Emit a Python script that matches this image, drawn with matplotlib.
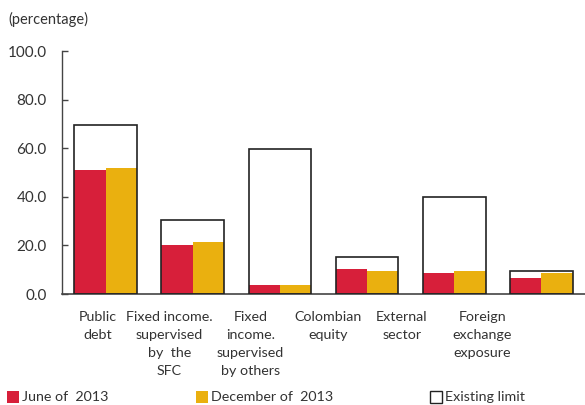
import matplotlib
matplotlib.use('Agg')
import matplotlib.pyplot as plt
from matplotlib.patches import Rectangle
import numpy as np

# values (percentage)
categories = ['Public\ndebt', 'Fixed income.\nsupervised\nby  the\nSFC',
              'Fixed\nincome.\nsupervised\nby others', 'Colombian\nequity',
              'External\nsector', 'Foreign\nexchange\nexposure']
june_2013 = [50.9, 20.3, 3.6, 10.4, 8.5, 6.6]
dec_2013 = [51.7, 21.3, 3.6, 9.5, 9.5, 8.5]
limits = [69.5, 30.3, 59.7, 15.4, 40.0, 9.6]
yticks = [0, 20, 40, 60, 80, 100]

red = '#d71f3a'
yellow = '#eab00f'
txt = '#333333'

plt.rcParams['font.family'] = ['Lato', 'DejaVu Sans']

fig = plt.figure(figsize=(5.85, 4.05), dpi=100)
ax = fig.add_axes([62 / 585, 1 - 294 / 405, 1 - 62 / 585, 243 / 405])

x = np.arange(len(categories))
w = 0.36
ax.bar(x - w / 2, june_2013, w, color=red, zorder=2)
ax.bar(x + w / 2, dec_2013, w, color=yellow, zorder=2)
ax.bar(x, limits, 2 * w, facecolor='none', edgecolor='#222222', linewidth=1.2, zorder=3)

ax.set_xlim(-0.5, 5.5)
ax.set_ylim(0, 100)
ax.set_yticks(yticks)
ax.set_yticklabels(['%.1f' % v for v in yticks], fontsize=11, color=txt)
ax.tick_params(axis='y', direction='in', length=4, width=1, color='#444444', pad=11)

# category labels sit a bit left of the bar groups in the original
label_pos = [-0.09, 0.73, 1.66, 2.555, 3.40, 4.32]
ax.set_xticks(label_pos)
ax.set_xticklabels(categories, fontsize=10.3, color=txt, linespacing=1.6)
ax.tick_params(axis='x', length=0, pad=12)

for s in ['top', 'right']:
    ax.spines[s].set_visible(False)
ax.spines['left'].set_color('#444444')
ax.spines['bottom'].set_color('#444444')
ax.spines['left'].set_linewidth(1)
ax.spines['bottom'].set_linewidth(1.2)

fig.text(8 / 585, 1 - 19 / 405, '(percentage)', fontsize=10.5, color=txt, va='center')

# legend
ly = 1 - 397 / 405
sq = 12
items = [(7, red, 'none', 'June of  2013'),
         (196, yellow, 'none', 'December of  2013'),
         (430, 'white', '#222222', 'Existing limit')]
for px, fc, ec, lab in items:
    fig.add_artist(Rectangle((px / 585, ly - sq / 2 / 405), sq / 585, sq / 405,
                             facecolor=fc, edgecolor=ec, linewidth=1,
                             transform=fig.transFigure))
    fig.text((px + sq + 3) / 585, ly, lab, fontsize=10.3, color=txt, va='center')

fig.savefig('out.png', dpi=100)
